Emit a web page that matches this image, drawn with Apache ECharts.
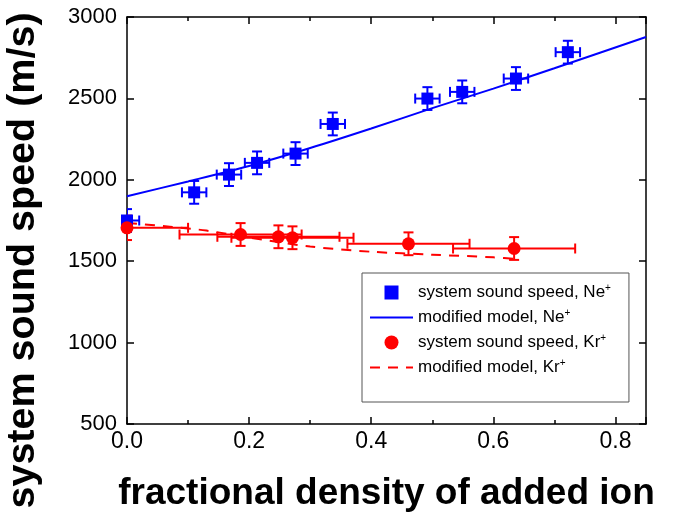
<!DOCTYPE html>
<html>
<head>
<meta charset="utf-8">
<script src="https://cdn.jsdelivr.net/npm/echarts@6/dist/echarts.min.js"></script>
<style>
  html, body { margin: 0; padding: 0; background: #fff; }
  #chart { width: 675px; height: 512px; }
</style>
</head>
<body>
<div id="chart"></div>
<script>
// measured points, Ne+ added
const neX = [0, 0.11, 0.167, 0.213, 0.276, 0.337, 0.492, 0.549, 0.637, 0.722];
const neY = [1750, 1923, 2032, 2104, 2161, 2343, 2499, 2540, 2622, 2784];
const neXErr = [0.02, 0.02, 0.02, 0.02, 0.02, 0.02, 0.02, 0.02, 0.02, 0.02];
const neYErr = [70, 70, 70, 70, 70, 70, 70, 70, 70, 70];

// measured points, Kr+ added
const krX = [0, 0.186, 0.248, 0.271, 0.461, 0.634];
const krY = [1705, 1664, 1650, 1644, 1607, 1578];
const krXErr = [0.1, 0.1, 0.1, 0.1, 0.1, 0.1];
const krYErr = [75, 70, 70, 70, 70, 70];

// model curves
const neModelX = [0, 0.1, 0.2, 0.3, 0.4, 0.5, 0.6, 0.7, 0.85];
const neModelY = [1899, 1990, 2085, 2195, 2315, 2440, 2560, 2685, 2877];
const krModelX = [0, 0.07, 0.13, 0.2, 0.3, 0.4, 0.5, 0.6, 0.64];
const krModelY = [1735, 1712, 1688, 1645, 1590, 1558, 1540, 1524, 1512];

const names = [
  'system sound speed, Ne+',
  'modified model, Ne+',
  'system sound speed, Kr+',
  'modified model, Kr+'
];

const FONT = '"Liberation Sans", Arial, sans-serif';
const BLUE = '#0000ff';
const RED = '#ff0000';

const zip = (...cols) => cols[0].map((_, i) => cols.map(c => c[i]));

function errorBars(color) {
  return function (params, api) {
    const x = api.value(0), y = api.value(1), dx = api.value(2), dy = api.value(3);
    const l = api.coord([x - dx, y]), r = api.coord([x + dx, y]);
    const t = api.coord([x, y + dy]), b = api.coord([x, y - dy]);
    const c = 5;
    const style = { stroke: color, lineWidth: 2 };
    const seg = (x1, y1, x2, y2) => ({ type: 'line', shape: { x1, y1, x2, y2 }, style });
    return {
      type: 'group',
      children: [
        seg(l[0], l[1], r[0], r[1]),
        seg(l[0], l[1] - c, l[0], l[1] + c),
        seg(r[0], r[1] - c, r[0], r[1] + c),
        seg(t[0], t[1], b[0], b[1]),
        seg(t[0] - c, t[1], t[0] + c, t[1]),
        seg(b[0] - c, b[1], b[0] + c, b[1])
      ]
    };
  };
}

const axisLine = { show: true, onZero: false, lineStyle: { color: '#000', width: 1.5 } };
const tick = { show: true, inside: true, length: 7, lineStyle: { color: '#000', width: 1.5 } };
const minor = { show: true, splitNumber: 2, length: 4, lineStyle: { color: '#000', width: 1.5 } };

const chart = echarts.init(document.getElementById('chart'));

chart.setOption({
  animation: false,
  textStyle: { fontFamily: FONT },
  grid: { left: 127, right: 29, top: 17, bottom: 88, outerBoundsMode: 'none', containLabel: false },
  xAxis: [
    {
      type: 'value', min: 0, max: 0.85, interval: 0.2,
      name: 'fractional density of added ion',
      nameLocation: 'middle', nameGap: 51,
      nameTextStyle: { fontSize: 37, fontWeight: 'bold', color: '#000', fontFamily: FONT },
      axisLine, axisTick: tick, minorTick: minor,
      axisLabel: { fontSize: 23, color: '#000', margin: 6, showMaxLabel: false, formatter: v => v.toFixed(1) },
      splitLine: { show: false }
    },
    {
      type: 'value', position: 'top', min: 0, max: 0.85, interval: 0.2,
      axisLine, axisTick: tick, minorTick: minor,
      axisLabel: { show: false },
      splitLine: { show: false }
    }
  ],
  yAxis: [
    {
      type: 'value', min: 500, max: 3000, interval: 500,
      name: 'system sound speed (m/s)',
      nameLocation: 'middle', nameGap: 84, nameRotate: 90,
      nameTextStyle: { fontSize: 39.5, fontWeight: 'bold', color: '#000', fontFamily: FONT, padding: [0, 80, 0, 0] },
      axisLine, axisTick: tick,
      axisLabel: { fontSize: 22, color: '#000', margin: 10, formatter: v => String(v) },
      splitLine: { show: false }
    },
    {
      type: 'value', position: 'right', min: 500, max: 3000, interval: 500,
      axisLine, axisTick: tick,
      axisLabel: { show: false },
      splitLine: { show: false }
    }
  ],
  legend: {
    orient: 'vertical', left: 362, top: 273,
    padding: [10, 18, 26, 7], itemGap: 7, itemWidth: 43, itemHeight: 14,
    symbolKeepAspect: true,
    borderColor: '#555', borderWidth: 1,
    data: [
      { name: names[0], icon: 'path://M0,0L1,0L1,1L0,1Z' },
      { name: names[1], itemStyle: { opacity: 0 } },
      { name: names[2], icon: 'circle' },
      { name: names[3], itemStyle: { opacity: 0 } }
    ],
    formatter: name => '{t|' + name.slice(0, -1) + '}{s|+}',
    textStyle: {
      rich: {
        t: { fontSize: 17, color: '#000', fontFamily: FONT, lineHeight: 20 },
        s: { fontSize: 10, color: '#000', fontFamily: FONT, padding: [0, 0, 9, 0] }
      }
    }
  },
  series: [
    {
      name: names[0], type: 'scatter', symbol: 'rect', symbolSize: 12,
      itemStyle: { color: BLUE, opacity: 1 }, z: 4,
      data: zip(neX, neY)
    },
    {
      name: names[1], type: 'line', symbol: 'none', smooth: 0.3,
      lineStyle: { color: BLUE, width: 2 }, itemStyle: { color: BLUE }, z: 3,
      data: zip(neModelX, neModelY)
    },
    {
      name: names[2], type: 'scatter', symbol: 'circle', symbolSize: 13,
      itemStyle: { color: RED, opacity: 1 }, z: 4,
      data: zip(krX, krY)
    },
    {
      name: names[3], type: 'line', symbol: 'none', smooth: 0.3,
      lineStyle: { color: RED, width: 2, type: [10, 8] }, itemStyle: { color: RED }, z: 3,
      data: zip(krModelX, krModelY)
    },
    {
      type: 'custom', clip: true, z: 4,
      renderItem: errorBars(BLUE),
      data: zip(neX, neY, neXErr, neYErr)
    },
    {
      type: 'custom', clip: true, z: 4,
      renderItem: errorBars(RED),
      data: zip(krX, krY, krXErr, krYErr)
    }
  ]
});
</script>
</body>
</html>
